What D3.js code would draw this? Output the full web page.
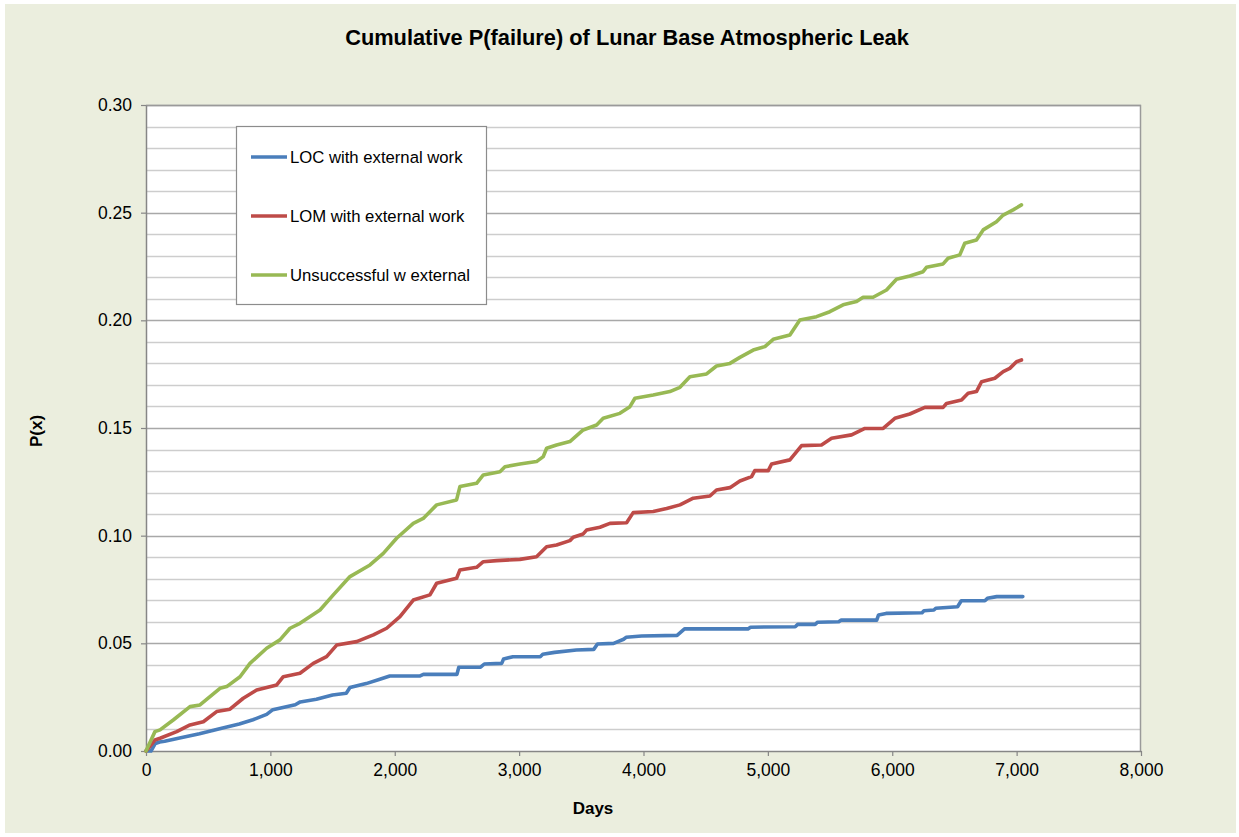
<!DOCTYPE html>
<html>
<head>
<meta charset="utf-8">
<script src="https://cdn.jsdelivr.net/npm/d3@7"></script>
<style>
  html, body { margin: 0; padding: 0; background: #ffffff; }
  svg { display: block; }
  text { font-family: "Liberation Sans", Arial, sans-serif; fill: #000; }
</style>
</head>
<body>
<svg id="chart" width="1239" height="837"></svg>
<script>
// Cumulative probability of failure vs. mission days, three outcomes
const seriesNames = ["LOC with external work", "LOM with external work", "Unsuccessful w external"];
const seriesColors = ["#4a7ebb", "#be4b48", "#98b954"];

// [days, P(x)] corner points of each cumulative curve
const locDays = [0,40,75,110,150,270,430,600,750,860,970,1020,1200,1240,1370,1500,1610,1640,1770,1880,1960,2200,2230,2500,2515,2690,2720,2860,2875,2950,3170,3190,3285,3460,3600,3630,3760,3840,3860,3985,4270,4330,4840,4860,5220,5240,5380,5400,5570,5590,5875,5890,5950,6240,6255,6335,6350,6525,6555,6745,6765,6840,7050];
const locValues = [0,0,0.0035,0.0042,0.0045,0.006,0.008,0.0105,0.0125,0.0145,0.017,0.0192,0.0215,0.0228,0.024,0.026,0.0268,0.0295,0.0313,0.0333,0.0348,0.0348,0.0356,0.0356,0.0389,0.0389,0.0404,0.0407,0.0427,0.0438,0.0438,0.0449,0.0458,0.0469,0.0472,0.0497,0.05,0.0519,0.0528,0.0534,0.0537,0.0567,0.0567,0.0575,0.0577,0.0588,0.0588,0.0598,0.06,0.0608,0.0608,0.0632,0.0639,0.0642,0.0651,0.0655,0.0663,0.067,0.0698,0.0698,0.0709,0.0717,0.0717];

const lomDays = [0,72,113,247,354,461,568,675,782,890,1051,1104,1238,1345,1452,1533,1694,1828,1935,2042,2149,2283,2337,2497,2524,2658,2712,2819,3006,3140,3221,3301,3408,3435,3515,3542,3650,3730,3864,3917,4078,4186,4293,4400,4534,4587,4695,4775,4869,4895,5003,5030,5177,5271,5431,5512,5673,5780,5927,6021,6141,6262,6409,6436,6557,6610,6677,6718,6825,6892,6945,6999,7039];
const lomValues = [0,0.0051,0.0059,0.009,0.0121,0.0136,0.0183,0.0194,0.0245,0.0283,0.0307,0.0345,0.0361,0.0407,0.0438,0.0492,0.0508,0.0539,0.057,0.0624,0.0701,0.0725,0.0779,0.0802,0.0841,0.0853,0.0879,0.0884,0.089,0.0902,0.0949,0.0957,0.0977,0.0993,0.1008,0.1026,0.1039,0.1057,0.106,0.1107,0.1112,0.1126,0.1143,0.1174,0.1184,0.1212,0.1223,0.1254,0.1274,0.1302,0.1302,0.1333,0.1352,0.1418,0.1421,0.1452,0.1468,0.1498,0.1498,0.1545,0.1565,0.1596,0.1596,0.1614,0.163,0.1661,0.1669,0.1715,0.1731,0.1762,0.1777,0.1808,0.1816];

const unsDays = [0,72,113,219,354,434,595,649,756,836,970,1077,1158,1238,1399,1506,1640,1801,1908,2015,2149,2229,2337,2497,2524,2658,2712,2846,2886,3006,3140,3194,3221,3301,3408,3515,3623,3676,3810,3891,3931,4078,4212,4293,4373,4507,4587,4695,4775,4882,4976,5043,5177,5257,5391,5498,5605,5713,5766,5846,5954,6034,6141,6248,6275,6409,6449,6543,6583,6677,6731,6838,6892,6972,7039];
const unsValues = [0,0.009,0.0098,0.0144,0.0206,0.0214,0.0291,0.0299,0.0345,0.0407,0.0477,0.0516,0.057,0.0593,0.0655,0.0725,0.081,0.0864,0.0918,0.0988,0.1057,0.108,0.1143,0.1166,0.1228,0.1243,0.1282,0.1297,0.132,0.1333,0.1344,0.1367,0.1406,0.1421,0.1437,0.1491,0.1514,0.1545,0.1568,0.1599,0.1638,0.1653,0.1669,0.1689,0.1738,0.1751,0.1788,0.18,0.1828,0.1862,0.1878,0.1912,0.1932,0.2002,0.2017,0.204,0.2072,0.2087,0.2107,0.2107,0.2141,0.2191,0.2206,0.2226,0.2246,0.2262,0.2288,0.2304,0.2358,0.2373,0.242,0.2458,0.2489,0.2513,0.2536];

const xTicks = [0,1000,2000,3000,4000,5000,6000,7000,8000];
const yTicks = [0,0.05,0.10,0.15,0.20,0.25,0.30];
const yGrid = d3.range(1, 31).map(i => i / 100);

const titleText = "Cumulative P(failure) of Lunar Base Atmospheric Leak";
const xLabel = "Days";
const yLabel = "P(x)";

const series = [
  { name: seriesNames[0], color: seriesColors[0], pts: d3.zip(locDays, locValues) },
  { name: seriesNames[1], color: seriesColors[1], pts: d3.zip(lomDays, lomValues) },
  { name: seriesNames[2], color: seriesColors[2], pts: d3.zip(unsDays, unsValues) }
];

const svg = d3.select("#chart");
const W = 1239, H = 837;
const plot = { left: 146, right: 1141, top: 105, bottom: 751 };

// chart background
svg.append("rect").attr("x", 5).attr("y", 4).attr("width", W - 8).attr("height", H - 8)
  .attr("fill", "#ebeede");

const x = d3.scaleLinear().domain([0, 8000]).range([plot.left, plot.right]);
const y = d3.scaleLinear().domain([0, 0.30]).range([plot.bottom, plot.top]);

// plot area
svg.append("rect").attr("x", plot.left).attr("y", plot.top)
  .attr("width", plot.right - plot.left).attr("height", plot.bottom - plot.top)
  .attr("fill", "#ffffff");

// horizontal gridlines every 0.01, darker at each 0.05
svg.append("g").selectAll("line").data(yGrid).join("line")
  .attr("x1", plot.left).attr("x2", plot.right)
  .attr("y1", d => Math.round(y(d)) + 0.5).attr("y2", d => Math.round(y(d)) + 0.5)
  .attr("stroke", d => (Math.round(d * 100) % 5 === 0) ? "#a8a8a8" : "#cdcdcd")
  .attr("stroke-width", 1.5);

// plot frame (top and right)
svg.append("path")
  .attr("d", `M${plot.left},${plot.top + 0.5}H${plot.right - 0.5}V${plot.bottom}`)
  .attr("fill", "none").attr("stroke", "#9a9a9a").attr("stroke-width", 1.5);

// axes
const fmtX = d3.format(",");
const xAxis = svg.append("g").attr("transform", `translate(0,${plot.bottom})`)
  .call(d3.axisBottom(x).tickValues(xTicks).tickFormat(fmtX).tickSizeInner(5).tickSizeOuter(0).tickPadding(8));
const yAxis = svg.append("g").attr("transform", `translate(${plot.left},0)`)
  .call(d3.axisLeft(y).tickValues(yTicks).tickFormat(d3.format(".2f")).tickSizeInner(5).tickSizeOuter(0).tickPadding(9));

[xAxis, yAxis].forEach(a => {
  a.select(".domain").attr("stroke", "#868686").attr("stroke-width", 1.5);
  a.selectAll(".tick line").attr("stroke", "#868686").attr("stroke-width", 1.2);
  a.selectAll(".tick text").attr("font-size", 17.5).attr("fill", "#000")
    .attr("font-family", '"Liberation Sans", Arial, sans-serif');
});

// series lines
const line = d3.line().x(d => x(d[0])).y(d => y(d[1])).curve(d3.curveLinear);
svg.append("g").selectAll("path").data(series).join("path")
  .attr("d", d => line(d.pts))
  .attr("fill", "none")
  .attr("stroke", d => d.color)
  .attr("stroke-width", 3.6)
  .attr("stroke-linejoin", "round")
  .attr("stroke-linecap", "round");

// legend
const lg = svg.append("g");
lg.append("rect").attr("x", 236.5).attr("y", 126.5).attr("width", 250).attr("height", 178)
  .attr("fill", "#ffffff").attr("stroke", "#8c8c8c").attr("stroke-width", 1.2);
const legendY = [157, 216, 275];
series.forEach((s, i) => {
  lg.append("line").attr("x1", 251).attr("x2", 287)
    .attr("y1", legendY[i]).attr("y2", legendY[i])
    .attr("stroke", s.color).attr("stroke-width", 3.6);
  lg.append("text").attr("x", 290).attr("y", legendY[i]).attr("dy", "0.35em")
    .attr("font-size", 16.7).text(s.name);
});

// titles
svg.append("text").attr("x", 627).attr("y", 45).attr("text-anchor", "middle")
  .attr("font-size", 21.8).attr("font-weight", "bold").text(titleText);
svg.append("text").attr("x", 593).attr("y", 814).attr("text-anchor", "middle")
  .attr("font-size", 17).attr("font-weight", "bold").text(xLabel);
svg.append("text").attr("transform", "translate(42,431) rotate(-90)")
  .attr("text-anchor", "middle")
  .attr("font-size", 17).attr("font-weight", "bold").text(yLabel);
</script>
</body>
</html>
